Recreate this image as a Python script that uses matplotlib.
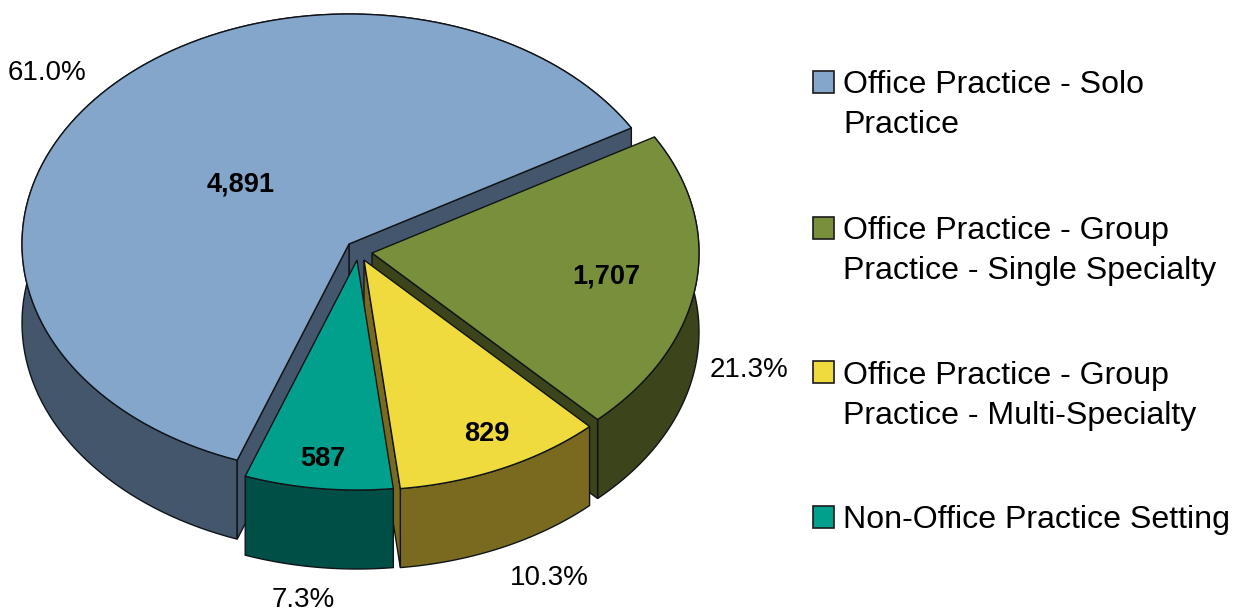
import matplotlib
matplotlib.use('Agg')
import matplotlib.pyplot as plt
import numpy as np
from matplotlib.patches import Polygon, Rectangle

plt.rcParams['font.family'] = ['Liberation Sans', 'DejaVu Sans']

# values
names = ['Office Practice - Solo\nPractice',
         'Office Practice - Group\nPractice - Single Specialty',
         'Office Practice - Group\nPractice - Multi-Specialty',
         'Non-Office Practice Setting']
counts = [4891, 1707, 829, 587]

# colours: top face, side face
top_colors = ['#84A6CB', '#788F3B', '#EFDB3D', '#00A08C']
side_colors = ['#44566B', '#3B441B', '#7A6A20', '#004F47']

# layout in image pixels, the axes run 0..1243 and 613..0
apex_x = [349, 372, 364, 357]
apex_y = [244, 253, 260, 260]
value_pos = [(241, 184), (606, 277), (487, 434), (323, 459)]
percent_pos = [(47, 73), (749, 370), (549, 578), (303, 600)]
legend_y = [82, 228, 372, 517]
text_y = [105, 251, 396, 520]

rx = 327
ry = 230
depth = 79
start_angle = 30.3
edge = '#101418'


def rim(angle1, angle2, x0, y0):
    # points on the squashed circle, angle1 to angle2 in degrees
    t = np.radians(np.linspace(angle1, angle2, 120))
    return np.column_stack([x0 + rx * np.cos(t), y0 - ry * np.sin(t)])


def down(points):
    shifted = points.copy()
    shifted[:, 1] = shifted[:, 1] + depth
    return shifted


def cut_face(ax, x0, y0, point, color, z):
    # flat side between the centre of the slice and the rim
    pts = np.array([[x0, y0], point, [point[0], point[1] + depth], [x0, y0 + depth]])
    ax.add_patch(Polygon(pts, facecolor=color, edgecolor=edge, linewidth=1, zorder=z))


def draw_slice(ax, angle1, angle2, x0, y0, top, side, z, show_first, show_last):
    arc = rim(angle1, angle2, x0, y0)
    # wall goes first, its hidden back part must stay under the flat sides
    wall = np.vstack([arc, down(arc)[::-1]])
    ax.add_patch(Polygon(wall, facecolor=side, edgecolor=edge, linewidth=1, zorder=z))
    # only the flat sides turned to the viewer get drawn
    if show_first:
        cut_face(ax, x0, y0, arc[0], side, z)
    if show_last:
        cut_face(ax, x0, y0, arc[-1], side, z)
    face = np.vstack([[x0, y0], arc])
    ax.add_patch(Polygon(face, facecolor=top, edgecolor=edge, linewidth=1, zorder=z))


fig = plt.figure(figsize=(12.43, 6.13), dpi=100)
ax = fig.add_axes([0, 0, 1, 1])
ax.set_xlim(0, 1243)
ax.set_ylim(613, 0)
ax.axis('off')

total = sum(counts)
sweeps = [c / total * 360 for c in counts]

# the first slice runs counter clockwise from the start angle, the others clockwise
draw_slice(ax, start_angle, start_angle + sweeps[0], apex_x[0], apex_y[0],
           top_colors[0], side_colors[0], 1, True, True)
angle = start_angle
for i in range(1, 4):
    draw_slice(ax, angle - sweeps[i], angle, apex_x[i], apex_y[i],
               top_colors[i], side_colors[i], i + 1, i < 3, False)
    angle = angle - sweeps[i]

for i in range(4):
    ax.text(value_pos[i][0], value_pos[i][1], format(counts[i], ','), fontsize=19.5,
            fontweight='bold', ha='center', va='center', color='black', zorder=10)
    ax.text(percent_pos[i][0], percent_pos[i][1], '%.1f%%' % (counts[i] / total * 100),
            fontsize=20, ha='center', va='center', color='black', zorder=10)
    ax.add_patch(Rectangle((813, legend_y[i] - 11), 21, 22, facecolor=top_colors[i],
                           edgecolor='#1a1a1a', linewidth=1.2, zorder=10))
    ax.text(843, text_y[i], names[i], fontsize=23.1, ha='left', va='center',
            linespacing=1.4, color='black', zorder=10)

fig.savefig('out.png', dpi=100)
